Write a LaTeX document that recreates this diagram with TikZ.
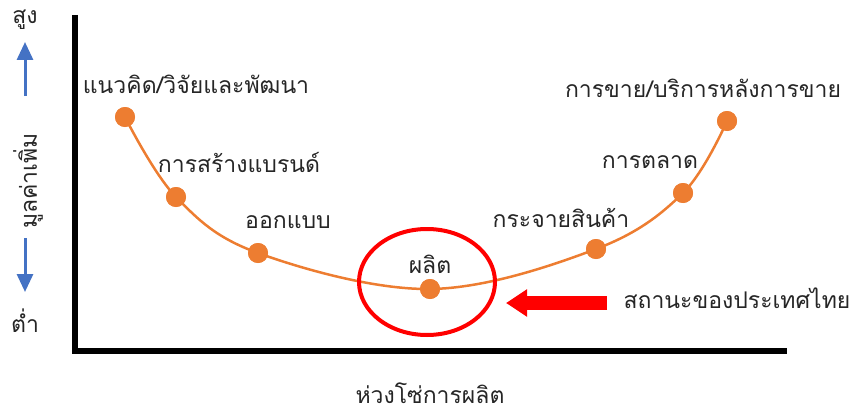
\documentclass[tikz,border=0pt]{standalone}
\usepackage{fontspec}
\newfontfamily\thaifont[Script=Thai]{Loma}
\usetikzlibrary{arrows.meta,shapes.geometric}
\definecolor{curveorange}{HTML}{ED7D31}
\definecolor{axisblue}{HTML}{4472C4}
\definecolor{markred}{HTML}{FF0000}

\begin{document}
\begin{tikzpicture}[x=1pt,y=-1pt,
    lbl/.style={font=\thaifont\fontsize{23}{27}\selectfont,text=black!85,anchor=base,inner sep=0pt},
    dot/.style={circle,fill=curveorange,minimum size=20pt,inner sep=0pt},
    bluearrow/.style={axisblue,line width=3pt,-{Triangle[length=18pt,width=16pt]}}]
  \useasboundingbox (0,0) rectangle (854,412);
  % axes
  \coordinate (O) at (75,351);
  \coordinate (ytop) at (75,15);
  \coordinate (xend) at (787,351);
  \draw[line width=5.5pt] (ytop) -- (O) -- (xend);
  % value scale
  \node[lbl] (high) at (25,24) {สูง};
  \node[lbl] (low) at (25,332) {ต่ำ};
  \node[lbl,rotate=90,anchor=center] (value) at (28,181) {มูลค่าเพิ่ม};
  \coordinate (upA) at (25,96);
  \coordinate (upB) at (25,42);
  \coordinate (dnA) at (25,238);
  \coordinate (dnB) at (25,292);
  \draw[bluearrow] (upA) -- (upB);
  \draw[bluearrow] (dnA) -- (dnB);
  % smile curve
  \node[dot] (p1) at (125,117) {};
  \node[dot] (p2) at (176,197) {};
  \node[dot] (p3) at (258,253) {};
  \node[dot] (p4) at (430,289) {};
  \node[dot] (p5) at (596,249) {};
  \node[dot] (p6) at (683,193) {};
  \node[dot] (p7) at (727,121) {};
  \draw[curveorange,line width=2.5pt] plot[smooth,tension=0.6] coordinates {(p1.center) (p2.center) (p3.center) (p4.center) (p5.center) (p6.center) (p7.center)};
  \foreach \p in {p1,p2,p3,p4,p5,p6,p7} \node[dot] at (\p) {};
  % stages
  \node[lbl] (research) at (196,93) {แนวคิด/วิจัยและพัฒนา};
  \node[lbl] (brand) at (239,172) {การสร้างแบรนด์};
  \node[lbl] (design) at (288,228) {ออกแบบ};
  \node[lbl] (produce) at (430,273) {ผลิต};
  \node[lbl] (distrib) at (561,227) {กระจายสินค้า};
  \node[lbl] (market) at (650,168) {การตลาด};
  \node[lbl] (service) at (703,97) {การขาย/บริการหลังการขาย};
  % thailand position
  \node[draw=markred,line width=4pt,ellipse,minimum width=136pt,minimum height=106pt] (zone) at (427,282) {};
  \coordinate (arrA) at (607,303);
  \coordinate (arrB) at (506,303);
  \draw[markred,line width=14pt,-{Triangle[length=21pt,width=26pt]}] (arrA) -- (arrB);
  \node[lbl] (thai) at (737,308) {สถานะของประเทศไทย};
  \node[lbl] (chain) at (430,403) {ห่วงโซ่การผลิต};
\end{tikzpicture}
\end{document}
